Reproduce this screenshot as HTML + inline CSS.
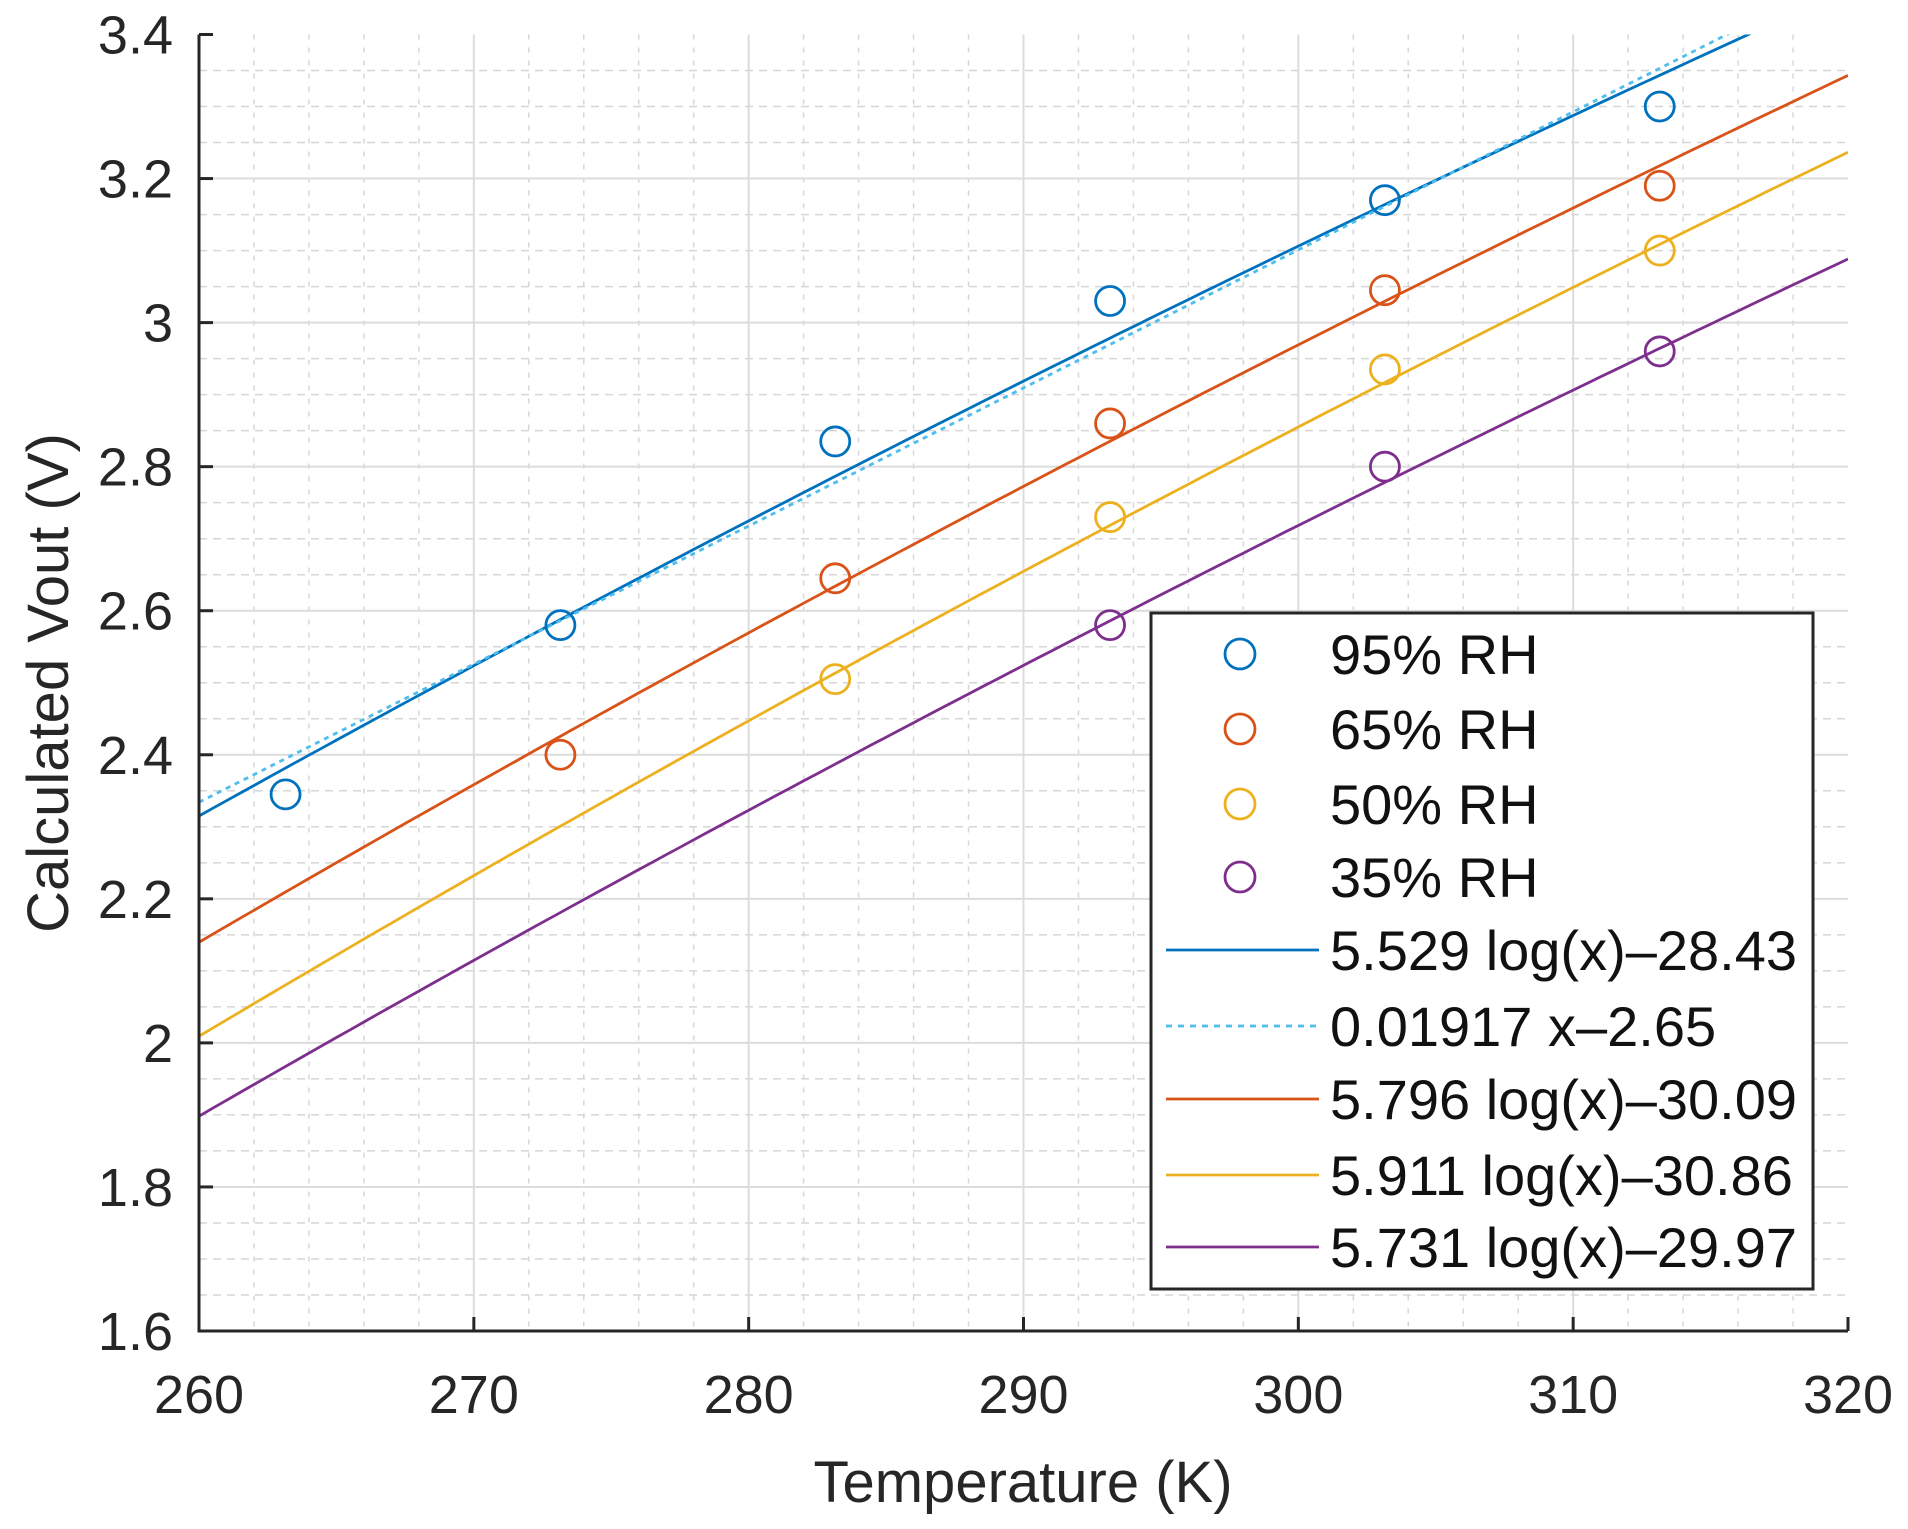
<!DOCTYPE html>
<html><head><meta charset="utf-8"><style>
html,body{margin:0;padding:0;background:#fff;}
svg{display:block;font-family:"Liberation Sans",Arial,sans-serif;}
</style></head><body>
<svg id="s" width="1908" height="1529" viewBox="0 0 1908 1529" xmlns="http://www.w3.org/2000/svg"></svg>
<script>
const X0=199,X1=1848,Y0=34.5,Y1=1331;
const xs=t=>X0+(t-260)/60*(X1-X0);
const ys=v=>Y1-(v-1.6)/1.8*(Y1-Y0);
let h='<rect width="1908" height="1529" fill="#fff"/>';
h+='<defs><clipPath id="c"><rect x="'+X0+'" y="'+Y0+'" width="'+(X1-X0)+'" height="'+(Y1-Y0)+'"/></clipPath></defs>';
for(let t=262;t<320;t+=2){if(t%10==0)continue;const x=xs(t);h+=`<line x1="${x}" y1="${Y0}" x2="${x}" y2="${Y1}" stroke="#d6d6d6" stroke-width="1.5" stroke-dasharray="5,8"/>`;}
for(let i=1;i<36;i++){if(i%4==0)continue;const y=ys(1.6+i*0.05);h+=`<line x1="${X0}" y1="${y}" x2="${X1}" y2="${y}" stroke="#d6d6d6" stroke-width="1.5" stroke-dasharray="8,6"/>`;}
for(let t=270;t<320;t+=10){const x=xs(t);h+=`<line x1="${x}" y1="${Y0}" x2="${x}" y2="${Y1}" stroke="#dcdcdc" stroke-width="2"/>`;}
for(let i=1;i<9;i++){const y=ys(1.6+i*0.2);h+=`<line x1="${X0}" y1="${y}" x2="${X1}" y2="${y}" stroke="#dcdcdc" stroke-width="2"/>`;}
function curve(f,col,extra){let p='';for(let t=260;t<=320.01;t+=0.5){p+=(p?'L':'M')+xs(t).toFixed(1)+','+ys(f(t)).toFixed(1);}return `<path d="${p}" fill="none" stroke="${col}" stroke-width="2.8" ${extra||''} clip-path="url(#c)"/>`;}
h+=curve(t=>5.529*Math.log(t)-28.43,'#0072BD');
h+=curve(t=>0.01917*t-2.65,'#4DBEEE','stroke-dasharray="5,5"');
h+=curve(t=>5.796*Math.log(t)-30.09,'#D95319');
h+=curve(t=>5.911*Math.log(t)-30.86,'#EDB120');
h+=curve(t=>5.731*Math.log(t)-29.97,'#7E2F8E');
const T=[263.15,273.15,283.15,293.15,303.15,313.15];
const data=[['#0072BD',[2.345,2.58,2.835,3.03,3.17,3.30]],['#D95319',[null,2.40,2.645,2.86,3.045,3.19]],['#EDB120',[null,null,2.505,2.73,2.935,3.10]],['#7E2F8E',[null,null,null,2.58,2.80,2.96]]];
for(const [c,v] of data)v.forEach((y,i)=>{if(y!=null)h+=`<circle cx="${xs(T[i])}" cy="${ys(y)}" r="14.5" fill="none" stroke="${c}" stroke-width="2.8"/>`;});
h+=`<path d="M${X0},${Y0}V${Y1}H${X1}" fill="none" stroke="#262626" stroke-width="3"/>`;
for(let t=260;t<=320;t+=10){const x=xs(t);h+=`<line x1="${x}" y1="${Y1}" x2="${x}" y2="${Y1-14}" stroke="#262626" stroke-width="3"/><text x="${x}" y="1413" font-size="54" text-anchor="middle" fill="#262626">${t}</text>`;}
for(let i=0;i<=9;i++){const v=1.6+i*0.2,y=ys(v);h+=`<line x1="${X0}" y1="${y}" x2="${X0+14}" y2="${y}" stroke="#262626" stroke-width="3"/><text x="173" y="${y+19}" font-size="54" text-anchor="end" fill="#262626">${(Math.round(v*10)/10).toString()}</text>`;}
h+=`<text x="1023" y="1502" font-size="58" text-anchor="middle" fill="#262626">Temperature (K)</text>`;
h+=`<text transform="translate(68,683) rotate(-90)" font-size="58" text-anchor="middle" fill="#262626">Calculated Vout (V)</text>`;
h+=`<rect x="1151" y="613" width="662" height="676" fill="#fff" stroke="#262626" stroke-width="3"/>`;
const lm=[['#0072BD','95% RH',654],['#D95319','65% RH',729],['#EDB120','50% RH',804],['#7E2F8E','35% RH',877]];
lm.forEach(m=>{const y=m[2];h+=`<circle cx="1240" cy="${y}" r="15" fill="none" stroke="${m[0]}" stroke-width="2.8"/><text x="1330" y="${y+20}" font-size="56" fill="#111">${m[1]}</text>`;});
const ll=[['#0072BD','5.529 log(x)\u201328.43','',950],['#4DBEEE','0.01917 x\u20132.65','stroke-dasharray="6,6"',1026],['#D95319','5.796 log(x)\u201330.09','',1099],['#EDB120','5.911 log(x)\u201330.86','',1175],['#7E2F8E','5.731 log(x)\u201329.97','',1247]];
ll.forEach(m=>{const y=m[3];h+=`<line x1="1166" y1="${y}" x2="1319" y2="${y}" stroke="${m[0]}" stroke-width="2.8" ${m[2]}/><text x="1330" y="${y+20}" font-size="56" fill="#111">${m[1]}</text>`;});
document.getElementById('s').innerHTML=h;
</script>
</body></html>
